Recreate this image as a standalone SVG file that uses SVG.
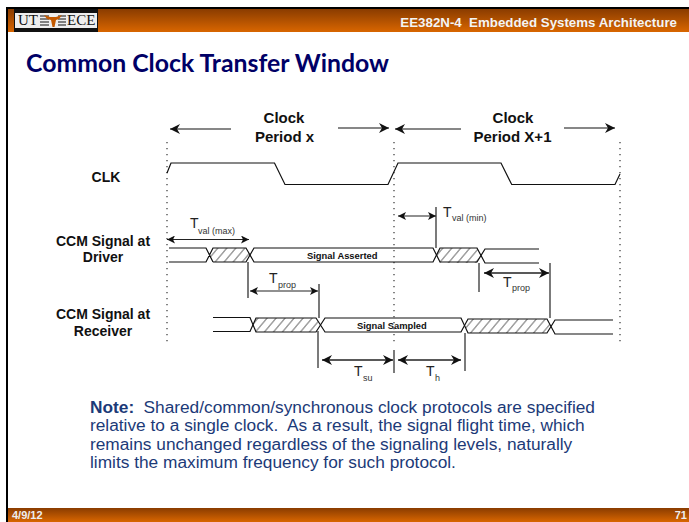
<svg xmlns="http://www.w3.org/2000/svg" width="689" height="522" viewBox="0 0 689 522">
<style>
.b{font-family:"Liberation Sans",Arial,sans-serif;font-weight:700;fill:#111}
.l{font-size:14px;text-anchor:middle}
.c{font-size:15px;text-anchor:middle}
.t{font-family:"Liberation Sans",Arial,sans-serif;fill:#222;font-size:14px}
.s{font-family:"Liberation Sans",Arial,sans-serif;fill:#333;font-size:9px}
.sig{fill:none;stroke:#111;stroke-width:1.2}
.hat{fill:url(#h);stroke:none}
.dot{stroke:#333;stroke-width:1.2;stroke-dasharray:1.2 4.8;fill:none}
.m{stroke:#222;stroke-width:1.2;fill:none}
.g{stroke:#444;stroke-width:1.4;fill:none}
.a{stroke:#222;stroke-width:1.1;fill:none;marker-start:url(#as);marker-end:url(#ae)}
.w{stroke:#222;stroke-width:1.3;fill:none;marker-start:url(#bs);marker-end:url(#be)}
.e{stroke:#111;stroke-width:1.2;fill:none;marker-end:url(#be)}
.n{font-family:"Liberation Sans",Arial,sans-serif;font-size:17.3px;fill:#1c3a78}
</style>
<defs>
<linearGradient id="o" x1="0" y1="0" x2="0" y2="1"><stop offset="0" stop-color="#8a3c00"/><stop offset="1" stop-color="#d96600"/></linearGradient>
<pattern id="h" width="9" height="16" patternUnits="userSpaceOnUse" patternTransform="skewX(-40)"><rect width="9" height="16" fill="#fff"/><path d="M3 0V16" stroke="#333" stroke-width="0.9"/></pattern>
<marker id="ae" markerWidth="9" markerHeight="8" refX="8" refY="4" orient="auto" markerUnits="userSpaceOnUse"><path d="M0 0L8 4L0 8L2 4Z" fill="#111"/></marker>
<marker id="as" markerWidth="9" markerHeight="8" refX="1" refY="4" orient="auto" markerUnits="userSpaceOnUse"><path d="M9 0L1 4L9 8L7 4Z" fill="#111"/></marker>
<marker id="be" markerWidth="11" markerHeight="10" refX="10" refY="5" orient="auto" markerUnits="userSpaceOnUse"><path d="M0 0L10 5L0 10L3 5Z" fill="#111"/></marker>
<marker id="bs" markerWidth="11" markerHeight="10" refX="1" refY="5" orient="auto" markerUnits="userSpaceOnUse"><path d="M11 0L1 5L11 10L8 5Z" fill="#111"/></marker>
</defs>
<rect width="689" height="522" fill="#fff"/>
<rect x="6" y="7" width="683" height="515" fill="#000"/>
<rect x="8" y="9" width="681" height="499" fill="#fff"/>
<rect x="8" y="9" width="681" height="23" fill="url(#o)"/>
<rect x="8" y="508" width="681" height="14" fill="url(#o)"/>
<g id="logo">
<rect x="14" y="9" width="84" height="23" fill="#111"/>
<rect x="15" y="13" width="82" height="15" fill="#eee"/>
<text x="18" y="25" font-family="Liberation Serif,serif" font-size="15" fill="#111">UT</text>
<path d="M40 16H49M40 19H49M40 22H49M40 25H49M58 16H66M58 19H66M58 22H66M58 25H66" stroke="#111" stroke-width="1.2"/>
<path d="M44 15L50 17L56 17L62 15L59 19L56 20L54.500 27L52.500 27L51 20L47 19Z" fill="#c45a00"/>
<text x="67" y="25" font-family="Liberation Serif,serif" font-size="15" fill="#111">ECE</text>
</g>
<text class="b" x="677" y="27" font-size="13.3" text-anchor="end" style="fill:#f4f4f4" xml:space="preserve">EE382N-4  Embedded Systems Architecture</text>
<text x="26" y="72" font-family="Lato,Open Sans,sans-serif" font-weight="700" font-size="24.8" fill="#000066">Common Clock Transfer Window</text>

<g id="labels">
<text class="b c" x="284" y="123">Clock</text><text class="b c" x="284.500" y="142">Period x</text>
<text class="b c" x="513" y="123">Clock</text><text class="b c" x="512.500" y="142">Period X+1</text>
<text class="b l" x="106" y="182">CLK</text>
<text class="b l" x="103" y="246">CCM Signal at</text><text class="b l" x="103" y="262">Driver</text>
<text class="b l" x="103" y="319">CCM Signal at</text><text class="b l" x="103" y="336">Receiver</text>
</g>
<g id="connectors">
<path class="dot" d="M167 142V342M394 142V342M620 142V342"/>
<path class="e" d="M231 129H170"/>
<path class="e" d="M338 128H389"/>
<path class="e" d="M461 129H395"/>
<path class="e" d="M564 128H615"/>
<path class="a" d="M167 239.500H249"/>
<path class="a" d="M398 216H436"/>
<path class="a" d="M250 291H318"/>
<path class="w" d="M484 273H549"/>
<path class="w" d="M322 360H393"/>
<path class="w" d="M398 360H461"/>
<path class="m" d="M436 207V248"/>
<path class="m" d="M248 262V298M319 284V318"/>
<path class="g" d="M479 263V292M550 263V318M318 331V368M394 350V373M465 333V371"/>
</g>
<g id="clk"><path class="sig" d="M167 173L171 163H274.500L285 184.500H388L398 163H501L511.700 184.500H615L620 174"/></g>
<g id="driver">
<path class="hat" d="M209 255L213 248H246L250 255L246 262H213Z"/>
<path class="hat" d="M436 255L440 248H477L481 255L477 263H440Z"/>
<path class="sig" d="M169 248H206L213 262M169 262H206L213 248H246L254 262H433L440 248H477L485 263H539"/>
<path class="sig" d="M213 262H246L254 248H433L440 262H477L485 249H539"/>
</g>
<g id="receiver">
<path class="hat" d="M253 325L256 318H316L320 325L316 332H256Z"/>
<path class="hat" d="M465 326L468 319H547L551 326L547 333H468Z"/>
<path class="sig" d="M213 317.500H250L256 332H316L325 318H461L468 333H547L555 320H613"/>
<path class="sig" d="M213 331.500H250L256 318H316L325 332H461L468 319H547L555 334H613"/>
</g>
<g id="dlabels">
<text class="b" x="307" y="259" font-size="9.400">Signal Asserted</text>
<text class="b" x="357" y="329" font-size="9.400">Signal Sampled</text>
<text class="t" x="190" y="228">T</text><text class="s" x="198" y="234">val (max)</text>
<text class="t" x="443" y="217">T</text><text class="s" x="452" y="221">val (min)</text>
<text class="t" x="269" y="283">T</text><text class="s" x="278" y="287.500">prop</text>
<text class="t" x="503" y="287">T</text><text class="s" x="512" y="291">prop</text>
<text class="t" x="354" y="376">T</text><text class="s" x="363" y="381">su</text>
<text class="t" x="426" y="376">T</text><text class="s" x="435" y="381">h</text>
</g>
<g id="note">
<text class="n" x="90" y="412.500"><tspan font-weight="700">Note:</tspan><tspan x="143.500">Shared/common/synchronous clock protocols are specified</tspan></text>
<text class="n" x="90" y="431" xml:space="preserve">relative to a single clock.  As a result, the signal flight time, which</text>
<text class="n" x="90" y="449.500">remains unchanged regardless of the signaling levels, naturally</text>
<text class="n" x="90" y="468">limits the maximum frequency for such protocol.</text>
</g>
<text class="b" x="12" y="519" font-size="11" style="fill:#eee">4/9/12</text>
<text class="b" x="687" y="519" font-size="11" text-anchor="end" style="fill:#eee">71</text>
</svg>
